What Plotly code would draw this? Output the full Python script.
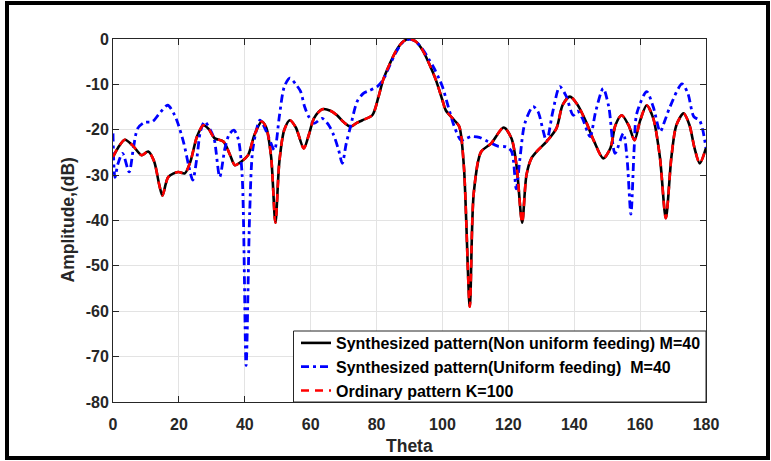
import plotly.graph_objects as go

# ---- data ----
theta_nonuni = [0, 1.5, 3.6, 6, 8.7, 10.7, 12.5, 14, 15, 16.8, 19.8, 21.8, 23.5, 25.5, 27.4, 29, 30.9,
                33.5, 35.5, 37, 39, 41, 43, 45.1, 46.5, 48, 49.3, 50.5, 52, 53.7, 55.5, 57.9, 59.5, 61,
                63.5, 66, 68, 70, 72.1, 74, 75.7, 78.7, 80.5, 82, 84, 86, 88, 90, 92, 94, 96, 98, 100,
                101, 103.6, 105.1, 106.5, 108.3, 109.5, 111.7, 114.8, 118.6, 121, 122.5, 124.2, 125.5,
                127, 129, 131.6, 134.6, 136.5, 138.7, 141, 143.8, 146, 148.8, 151, 152.5, 154.4, 156.5,
                158.3, 160, 162, 164, 166, 167.8, 169.5, 171, 173.2, 175, 176.5, 178.1, 180]
db_nonuni = [-26, -24, -22.2, -23.5, -25.6, -24.8, -27, -32, -34.5, -30.4, -29.3, -29.6, -27, -21.5,
             -19, -19.8, -21.9, -22.6, -25.5, -27.8, -27, -25.6, -21, -18.2, -19.5, -26, -40.5, -27,
             -20, -17.9, -19.5, -24.1, -21, -17.5, -15.5, -15.8, -16.8, -18.3, -19.3, -18.5, -17.9,
             -16.8, -13, -9, -5.5, -2.5, -0.6, 0, -0.6, -2.5, -5.5, -9, -13.5, -15.7, -17.9, -19.3,
             -28, -59, -34, -24.9, -23, -19.5, -22, -28, -40.5, -30, -26.3, -24.5, -22.6, -19.7,
             -14.5, -12.7, -14.5, -18.6, -22.5, -26.3, -24, -19, -16.8, -19, -22.3, -18, -14.6, -17.5,
             -26, -39.5, -26, -19, -16.4, -19, -24, -27.4, -24]

theta_uni = [0, 0.6, 1.5, 2.9, 4.9, 6.2, 7.5, 9.5, 12, 14, 16.6, 18.5, 19.7, 21.5, 23, 24.2, 25.5, 26.5,
             27.8, 29.5, 30.7, 32.4, 34, 35.3, 36.7, 38, 39.2, 40.4, 41.5, 42.5, 44.6, 46, 47.6, 49,
             50.5, 52, 53.7, 55.5, 56.9, 58.2, 59.4, 61, 63.5, 65.5, 67, 68.5, 69.6, 70.8, 72.1, 74.1,
             76, 77.7, 80.2, 82, 84, 86, 88, 90, 92, 94, 96, 97.5, 99, 100, 101.8, 103.6, 105.6, 107,
             108.7, 111.2, 113.8, 116.8, 119.4, 121, 122.4, 123.5, 125, 127.5, 129, 130.5, 131.6,
             133.5, 135.6, 137.5, 139.7, 141, 142.5, 144.8, 146.5, 148.8, 150.5, 152.4, 154.9, 156,
             157.2, 158.2, 159, 162, 164, 166.1, 167.5, 169.1, 172.7, 174.5, 176.3, 178, 179, 180]
db_uni = [-20.8, -30.5, -27.5, -25.2, -29.3, -24, -19.7, -18.4, -18.2, -16.5, -14.6, -16.5, -18.6, -23,
          -28, -31.1, -26, -20.5, -18.2, -20, -22, -30.4, -24, -21, -20.1, -22, -30, -72, -38, -24,
          -17.9, -19.5, -22.3, -24.5, -17, -10.5, -8.6, -10, -11.5, -15, -17.1, -18.6, -17.5, -19,
          -21.2, -24.5, -27.4, -23, -19.3, -13.8, -12, -11.4, -10.5, -9, -5.8, -2.8, -0.7, 0, -0.6,
          -2.3, -4.6, -6.5, -8.8, -10.5, -15, -19.3, -22.3, -22, -21.5, -21.7, -22.6, -23.6, -23.8,
          -24.8, -33, -26.5, -18.6, -14.9, -16, -20, -22.6, -16, -10.5, -12.5, -16.8, -15.9, -17.5,
          -21.5, -16, -10.9, -15, -25.2, -20.8, -26, -38.6, -24, -16.4, -11.6, -15, -20.4, -18,
          -14.9, -9.9, -12, -17.1, -17.9, -20, -24]

theta_ord = list(theta_nonuni)
db_ord = list(db_nonuni)

x_ticks = [0, 20, 40, 60, 80, 100, 120, 140, 160, 180]
y_ticks = [0, -10, -20, -30, -40, -50, -60, -70, -80]

names = ["Synthesized pattern(Non uniform feeding) M=40",
         "Synthesized pattern(Uniform feeding)\u00a0 M=40",
         "Ordinary pattern K=100"]

FONT = "Liberation Sans, Arial, sans-serif"
AX = "#262626"

fig = go.Figure()
fig.add_trace(go.Scatter(x=theta_nonuni, y=db_nonuni, mode="lines", name=names[0],
                         line=dict(color="black", width=2.6, shape="spline", smoothing=0.8)))
fig.add_trace(go.Scatter(x=theta_uni, y=db_uni, mode="lines", name=names[1],
                         line=dict(color="#0000ff", width=2.8, dash="8px,4px,3px,4px",
                                   shape="spline", smoothing=0.8)))
fig.add_trace(go.Scatter(x=theta_ord, y=db_ord, mode="lines", name=names[2],
                         line=dict(color="#ff0000", width=2.6, dash="8px,6px",
                                   shape="spline", smoothing=0.8)))

W, H = 771, 461
L, R, T, B = 113, 65, 39, 59
pw, ph = W - L - R, H - T - B

def px2paper(px, py):
    return (px - L) / pw, (H - B - py) / ph

# outer figure frame
fx0, fy0 = px2paper(7, 458)
fx1, fy1 = px2paper(768, 3)
fig.add_shape(type="rect", xref="paper", yref="paper", x0=fx0, y0=fy0, x1=fx1, y1=fy1,
              line=dict(color="black", width=4), fillcolor="rgba(0,0,0,0)", layer="above")

# legend box (white, framed)
lx0, ly0 = px2paper(293.5, 402)
lx1, ly1 = px2paper(706, 331)
fig.add_shape(type="rect", xref="paper", yref="paper", x0=lx0, y0=ly0, x1=lx1, y1=ly1,
              line=dict(color=AX, width=1), fillcolor="white", layer="above")

axis_common = dict(showline=True, linecolor=AX, linewidth=1, mirror="ticks", ticks="inside",
                   ticklen=6, tickcolor=AX, showgrid=True, gridcolor="#e3e3e3", gridwidth=1,
                   zeroline=False, automargin=False,
                   tickfont=dict(family=FONT, size=16, color=AX, weight="bold"))

fig.update_xaxes(range=[0, 180], tickvals=x_ticks, ticktext=[str(v) for v in x_ticks],
                 ticklabelstandoff=8, **axis_common)
fig.update_yaxes(range=[-80, 0], tickvals=y_ticks, ticktext=[str(v) for v in y_ticks],
                 **axis_common)

# axis titles
_, ty = px2paper(0, 446)
tx, _ = px2paper(67, 0)
fig.add_annotation(text="Theta", xref="paper", yref="paper", x=0.5, y=ty, xanchor="center",
                   yanchor="middle", showarrow=False,
                   font=dict(family=FONT, size=17.5, color=AX, weight="bold"))
fig.add_annotation(text="Amplitude,(dB)", xref="paper", yref="paper", x=tx, y=0.5,
                   xanchor="center", yanchor="middle", textangle=-90, showarrow=False,
                   font=dict(family=FONT, size=17.5, color=AX, weight="bold"))

fig.update_layout(
    width=W, height=H, margin=dict(l=L, r=R, t=T, b=B, pad=0),
    paper_bgcolor="white", plot_bgcolor="white",
    font=dict(family=FONT, color=AX),
    showlegend=True,
    legend=dict(x=1, xanchor="right", y=-6 / ph, yanchor="bottom", bgcolor="rgba(0,0,0,0)",
                borderwidth=0, itemwidth=30,
                font=dict(family=FONT, size=16, color="black", weight="bold"),
                tracegroupgap=0),
)

fig.write_html("out.html", config={"displayModeBar": False},
               post_script="document.body.style.margin='0';document.body.style.overflow='hidden';")
